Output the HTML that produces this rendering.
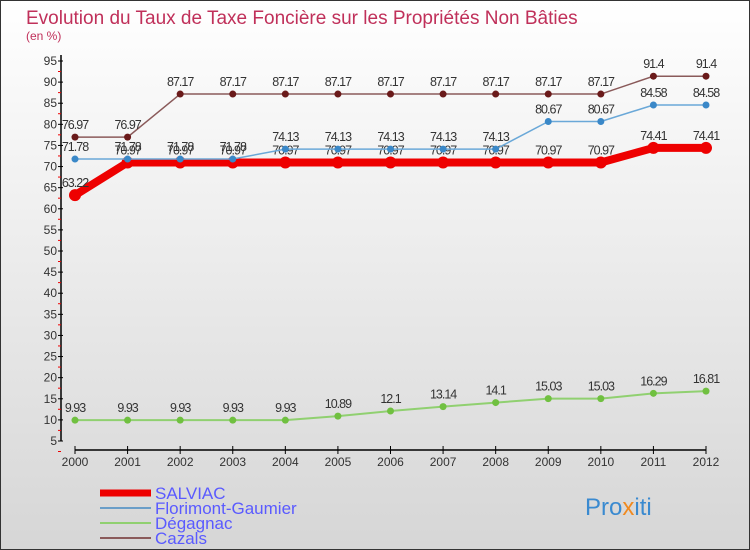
<!DOCTYPE html>
<html><head><meta charset="utf-8"><style>
body{margin:0}
#c{width:750px;height:550px;position:relative;background:linear-gradient(#ffffff,#d6d6d6);box-sizing:border-box;border:1px solid #333;font-family:"Liberation Sans",sans-serif;overflow:hidden}
</style></head><body>
<div id="c">
<svg id="s" width="750" height="550" style="position:absolute;left:-1px;top:-1px">
<text x="26" y="24" font-size="19" fill="#c0305a">Evolution du Taux de Taxe Foncière sur les Propriétés Non Bâties</text>
<text x="26" y="40" font-size="12" fill="#c0305a">(en %)</text>
<g id="ax"></g><g id="ser"></g>
<g>
<line x1="100" y1="493" x2="151" y2="493" stroke="#e00" stroke-width="7"/>
<text x="155" y="499" font-size="17" fill="#5a5aff">SALVIAC</text>
<line x1="100" y1="508" x2="151" y2="508" stroke="#6a9ec8" stroke-width="2"/>
<text x="155" y="514" font-size="17" fill="#5a5aff">Florimont-Gaumier</text>
<line x1="100" y1="523" x2="151" y2="523" stroke="#90d070" stroke-width="2"/>
<text x="155" y="529" font-size="17" fill="#5a5aff">Dégagnac</text>
<line x1="100" y1="538" x2="151" y2="538" stroke="#8a5a5a" stroke-width="2"/>
<text x="155" y="544" font-size="17" fill="#5a5aff">Cazals</text>
</g>
<text x="585" y="515" font-size="24" fill="#3a8ad0">Pro<tspan fill="#f08a20">x</tspan>iti</text>
</svg>
</div>
<script>
const years=[2000,2001,2002,2003,2004,2005,2006,2007,2008,2009,2010,2011,2012];
const yTicks=[5,10,15,20,25,30,35,40,45,50,55,60,65,70,75,80,85,90,95];
const salviac=[63.22,70.97,70.97,70.97,70.97,70.97,70.97,70.97,70.97,70.97,70.97,74.41,74.41];
const florimont=[71.78,71.78,71.78,71.78,74.13,74.13,74.13,74.13,74.13,80.67,80.67,84.58,84.58];
const degagnac=[9.93,9.93,9.93,9.93,9.93,10.89,12.1,13.14,14.1,15.03,15.03,16.29,16.81];
const cazals=[76.97,76.97,87.17,87.17,87.17,87.17,87.17,87.17,87.17,87.17,87.17,91.4,91.4];
const NS="http://www.w3.org/2000/svg";
const X=i=>75+i*(706-75)/(years.length-1);
const Y=v=>441-(v-5)*(380/90);
function mk(p,t,a){const e=document.createElementNS(NS,t);for(const k in a)e.setAttribute(k,a[k]);p.appendChild(e);return e;}
const ax=document.getElementById('ax'),ser=document.getElementById('ser');
const ya=mk(ax,'line',{x1:61,y1:55,x2:61,y2:441,stroke:'#000','stroke-width':1.5});


yTicks.forEach(v=>{const y=Y(v);mk(ax,'line',{x1:58,y1:y,x2:63,y2:y,stroke:'#000'});
mk(ax,'line',{x1:58,y1:y+10.5,x2:61,y2:y+10.5,stroke:'#e00'});
const t=mk(ax,'text',{x:57,y:y+4,'font-size':12,'text-anchor':'end',fill:'#333'});t.textContent=v;

});
const xa=mk(ax,'line',{x1:75,y1:450,x2:706,y2:450,stroke:'#000','stroke-width':1.5});


years.forEach((yr,i)=>{const x=X(i);mk(ax,'line',{x1:x,y1:446,x2:x,y2:454,stroke:'#000'});
const t=mk(ax,'text',{x:x,y:466,'font-size':12,'text-anchor':'middle',fill:'#333'});t.textContent=yr;

});
function series(d,name,col,dot,w,r){const g=mk(ser,'g',{});


mk(g,'polyline',{points:d.map((v,i)=>X(i)+','+Y(v)).join(' '),fill:'none',stroke:col,'stroke-width':w,'stroke-linejoin':'round'});
d.forEach((v,i)=>{const c=mk(g,'circle',{cx:X(i),cy:Y(v),r:r,fill:dot});


const t=mk(g,'text',{x:X(i),y:Y(v)-8,'font-size':12.5,'text-anchor':'middle',fill:'#333','letter-spacing':'-1'});t.textContent=v;});}
series(degagnac,'degagnac','#90d070','#70c040',2,3.5);
series(cazals,'cazals','#8a5a5a','#6a1a1a',1.5,3.5);
series(salviac,'salviac','#e00','#e00',8,6);
series(florimont,'florimont','#6aa8d8','#3a88c8',1.5,3.5);
</script>
</body></html>
